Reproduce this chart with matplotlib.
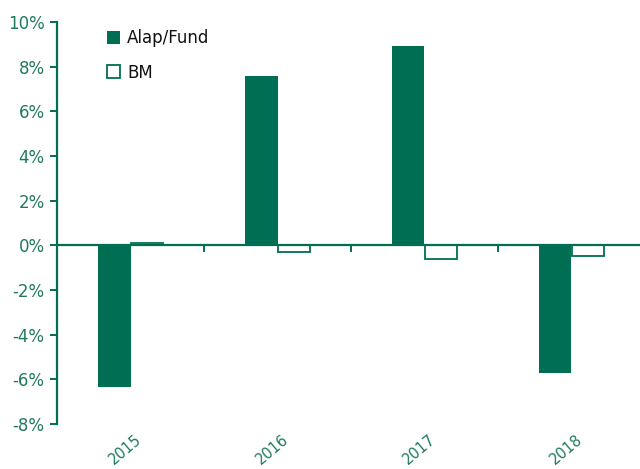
import numpy as np
import matplotlib.pyplot as plt
from matplotlib.transforms import blended_transform_factory

# data
years = ['2015', '2016', '2017', '2018']
fund = [-6.35, 7.57, 8.91, -5.73]
bm = [0.1, -0.28, -0.62, -0.47]

green = '#006e52'
txt_green = '#1f7a5c'

plt.rcParams['font.family'] = ['DejaVu Sans']

fig = plt.figure(figsize=(6.4, 4.69), dpi=100)
ax = fig.add_axes([57 / 640, (469 - 424) / 469, 583 / 640, (424 - 22) / 469])

x = np.arange(len(years))
w = 0.224
ax.bar(x - w / 2, fund, w, color=green, label='Alap/Fund')
ax.bar(x + w / 2, bm, w, facecolor='white', edgecolor=green, linewidth=1.3, label='BM')

ax.set_xlim(-0.5, -0.5 + 583 / 147)
ax.set_ylim(-8, 10)
ax.set_yticks(np.arange(-8, 11, 2))
ax.set_yticklabels([f'{v}%' for v in range(-8, 11, 2)])

for s in ['top', 'right']:
    ax.spines[s].set_visible(False)
ax.spines['left'].set_color(green)
ax.spines['left'].set_linewidth(1.6)
ax.spines['bottom'].set_position(('data', 0))
ax.spines['bottom'].set_color(green)
ax.spines['bottom'].set_linewidth(1.6)

ax.tick_params(axis='y', colors=green, labelcolor=txt_green, labelsize=12,
               length=5, width=1.4, direction='out', pad=4)
ax.set_xticks([0.5, 1.5, 2.5])
ax.set_xticklabels([])
ax.tick_params(axis='x', colors=green, length=5, width=1.4, direction='out')

trans = blended_transform_factory(ax.transData, ax.transAxes)
for i, y in enumerate(years):
    ax.text(i + 0.03, -0.02, y, transform=trans, rotation=40, ha='right', va='top',
            color=txt_green, fontsize=10.5, rotation_mode='anchor')

leg = ax.legend(loc='upper left', bbox_to_anchor=(0.06, 1.02), frameon=False,
                fontsize=12, handlelength=0.8, handleheight=0.8, handletextpad=0.4,
                labelspacing=1.0, labelcolor='#111111')

fig.savefig('out.png', dpi=100)
